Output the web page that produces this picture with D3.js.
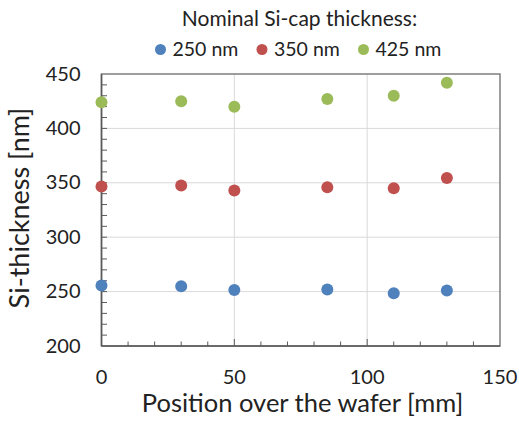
<!DOCTYPE html>
<html>
<head>
<meta charset="utf-8">
<script src="https://cdn.jsdelivr.net/npm/d3@7"></script>
<style>
  body { margin: 0; background: #fff; }
  svg text { font-family: Lato, "Open Sans", sans-serif; fill: #222; }
</style>
</head>
<body>
<div id="chart"></div>
<script>
// positions over the wafer (mm)
var positions = [0, 30, 50, 85, 110, 130];
var seriesNames = ["250 nm", "350 nm", "425 nm"];
var seriesColors = ["#4F81BD", "#C0504D", "#9BBB59"];
var thick250 = [255.5, 255, 251.5, 252, 248.5, 251];
var thick350 = [346.5, 347.5, 343, 346, 345, 354.5];
var thick425 = [424, 425, 420, 427, 430, 442];
var xTicks = [0, 50, 100, 150];
var yTicks = [200, 250, 300, 350, 400, 450];

document.addEventListener('DOMContentLoaded', main);

function main() {
    var width = 519, height = 422;
    var left = 101.5, right = 500, top = 74, bottom = 346;

    var svg = d3.select("#chart").append("svg")
        .attr("width", width)
        .attr("height", height);

    var x = d3.scaleLinear().domain([0, 150]).range([left, right]);
    var y = d3.scaleLinear().domain([200, 450]).range([bottom, top]);

    // gridlines
    svg.append("g").selectAll("line")
        .data(yTicks.filter(function (d) { return d > 200 && d < 450; }))
        .enter().append("line")
        .attr("x1", left).attr("x2", right)
        .attr("y1", function (d) { return y(d); })
        .attr("y2", function (d) { return y(d); })
        .attr("stroke", "#d9d9d9").attr("stroke-width", 1);
    svg.append("g").selectAll("line")
        .data(xTicks.filter(function (d) { return d > 0 && d < 150; }))
        .enter().append("line")
        .attr("y1", top).attr("y2", bottom)
        .attr("x1", function (d) { return x(d); })
        .attr("x2", function (d) { return x(d); })
        .attr("stroke", "#d9d9d9").attr("stroke-width", 1);

    // box
    svg.append("rect")
        .attr("x", left).attr("y", top)
        .attr("width", right - left).attr("height", bottom - top)
        .attr("fill", "none").attr("stroke", "#7f7f7f").attr("stroke-width", 1.5);

    // minor ticks (inside)
    var yMinor = d3.range(210, 450, 10);
    svg.append("g").selectAll("line")
        .data(yMinor)
        .enter().append("line")
        .attr("x1", left).attr("x2", left + 5.5)
        .attr("y1", function (d) { return y(d); })
        .attr("y2", function (d) { return y(d); })
        .attr("stroke", "#595959").attr("stroke-width", 1);
    var xMinor = d3.range(10, 150, 10);
    svg.append("g").selectAll("line")
        .data(xMinor)
        .enter().append("line")
        .attr("y1", bottom).attr("y2", function (d) { return d % 50 === 0 ? bottom - 7 : bottom - 4.5; })
        .attr("x1", function (d) { return x(d); })
        .attr("x2", function (d) { return x(d); })
        .attr("stroke", "#595959").attr("stroke-width", 1);

    // left and bottom axis lines
    svg.append("line").attr("x1", left).attr("x2", left).attr("y1", top).attr("y2", bottom)
        .attr("stroke", "#595959").attr("stroke-width", 1.5);
    svg.append("line").attr("x1", left).attr("x2", right).attr("y1", bottom).attr("y2", bottom)
        .attr("stroke", "#595959").attr("stroke-width", 1.5);

    // tick labels
    svg.append("g").selectAll("text")
        .data(yTicks)
        .enter().append("text")
        .attr("x", 80.5)
        .attr("y", function (d) { return y(d) + 6.5; })
        .attr("text-anchor", "end")
        .attr("font-size", 20)
        .text(function (d) { return d; });
    svg.append("g").selectAll("text")
        .data(xTicks)
        .enter().append("text")
        .attr("x", function (d) { return x(d); })
        .attr("y", 384)
        .attr("text-anchor", "middle")
        .attr("font-size", 20)
        .text(function (d) { return d; });

    // axis titles
    svg.append("text")
        .attr("x", 302.5)
        .attr("y", 412)
        .attr("text-anchor", "middle")
        .attr("font-size", 25.5)
        .text("Position over the wafer [mm]");
    svg.append("text")
        .attr("transform", "translate(29,208) rotate(-90)")
        .attr("text-anchor", "middle")
        .attr("font-size", 27)
        .text("Si-thickness [nm]");

    // points
    var series = [thick250, thick350, thick425];
    series.forEach(function (vals, i) {
        svg.append("g").selectAll("circle")
            .data(vals)
            .enter().append("circle")
            .attr("cx", function (d, j) { return x(positions[j]); })
            .attr("cy", function (d) { return y(d); })
            .attr("r", 6)
            .attr("fill", seriesColors[i]);
    });

    // legend
    svg.append("text")
        .attr("x", 299.5)
        .attr("y", 25.5)
        .attr("text-anchor", "middle")
        .attr("font-size", 21)
        .text("Nominal Si-cap thickness:");
    var legend = svg.append("g").selectAll("g")
        .data(seriesNames)
        .enter().append("g")
        .attr("transform", function (d, i) { return "translate(" + (160.5 + i * 101.5) + ",49.5)"; });
    legend.append("circle").attr("r", 5.5)
        .attr("fill", function (d, i) { return seriesColors[i]; });
    legend.append("text")
        .attr("x", 12)
        .attr("y", 6.5)
        .attr("font-size", 19.5)
        .text(function (d) { return d; });
}
</script>
</body>
</html>
